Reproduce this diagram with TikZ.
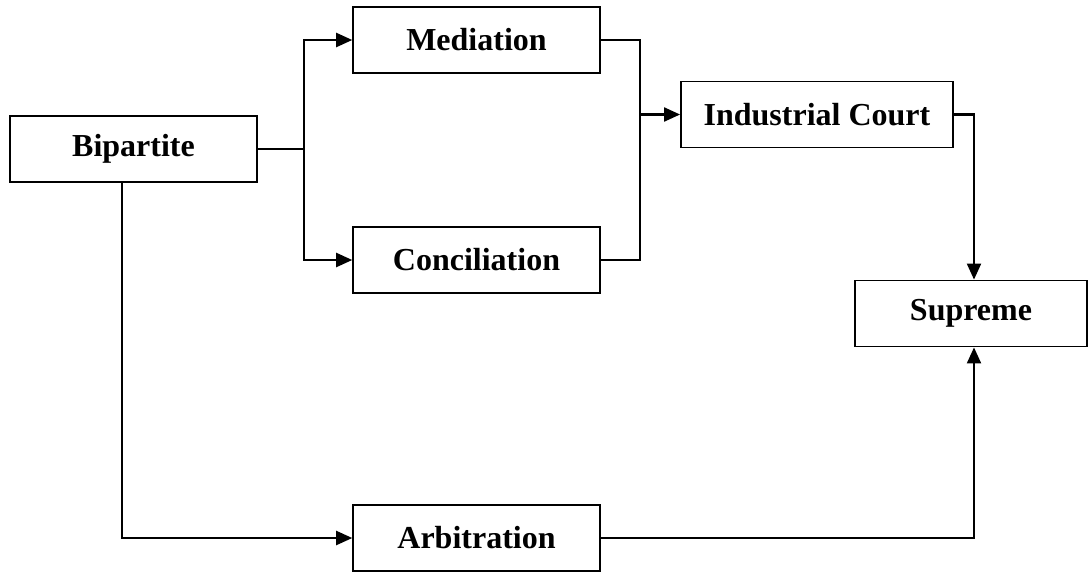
\documentclass[tikz,border=0pt]{standalone}
\usepackage{fontspec}
\setmainfont{Liberation Serif}
\usetikzlibrary{arrows.meta}

\begin{document}
\begin{tikzpicture}[x=0.75pt, y=-0.75pt, line width=1.6pt, >={Triangle[length=12pt, width=10.5pt]},
    box/.style={rectangle, draw, line width=1.4pt, inner sep=0pt, minimum height=49.5pt,
        font=\fontsize{24}{28}\selectfont\bfseries}]

    \useasboundingbox (0,0) rectangle (1089,572);

    \node[box, minimum width=185pt] (bip) at (133.5,149) {Bipartite};
    \node[box, minimum width=185pt] (med) at (476.5,40) {Mediation};
    \node[box, minimum width=185pt] (con) at (476.5,260) {Conciliation};
    \node[box, minimum width=185pt] (arb) at (476.5,538) {Arbitration};
    \node[box, minimum width=204pt] (ind) at (817,114.5) {Industrial Court};
    \node[box, minimum width=174pt] (sup) at (971,313.5) {Supreme};

    \coordinate (jl) at (304,149);
    \coordinate (jr) at (640,114.5);
    \coordinate (bl) at (122,538);
    \coordinate (br) at (974,538);

\draw (bip) -- (jl);
\draw[->] (jl) |- (med);
\draw[->] (jl) |- (con);
\draw (med) -| (jr);
\draw (con) -| (jr);
\draw[->] (jr) -- (ind);
\draw[->] (ind) -| (br |- sup.north);
\draw[->] (bip.south -| bl) -- (bl) -- (arb);
\draw[->] (arb) -- (br) -- (br |- sup.south);
\end{tikzpicture}
\end{document}
